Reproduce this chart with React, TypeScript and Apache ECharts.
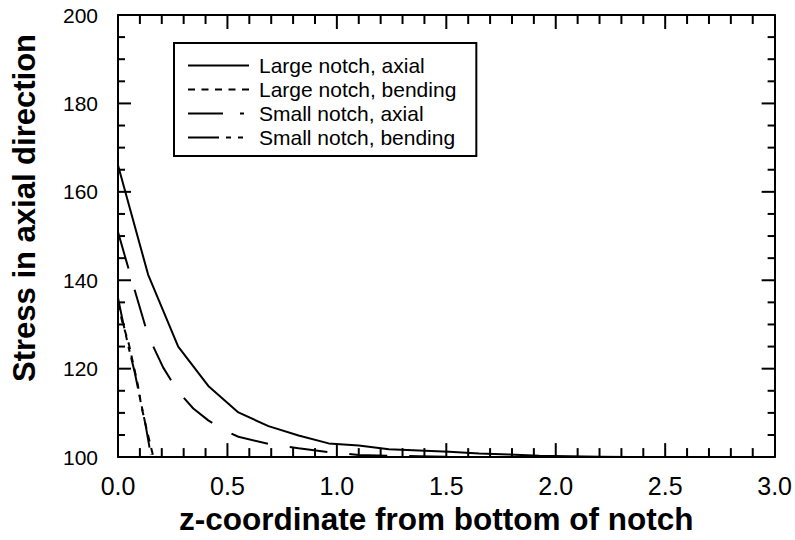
import React, { useEffect, useRef } from "react";
import * as echarts from "echarts";

const seriesNames = [
  "Large notch, axial",
  "Large notch, bending",
  "Small notch, axial",
  "Small notch, bending",
];

const largeAxialX = [0, 0.1375, 0.275, 0.4125, 0.55, 0.6875, 0.825, 0.9625, 1.1, 1.2375, 1.375, 1.5125, 1.65, 1.7875, 1.925, 2.0625, 2.2, 2.3375, 2.475, 2.6125, 2.75];
const largeAxialY = [166, 141.3, 125, 116.1, 110.1, 107, 104.9, 103.1, 102.6, 101.8, 101.5, 101.2, 100.8, 100.6, 100.3, 100.2, 100.1, 100, 100, 100, 100];

const largeBendX = [0, 0.02, 0.05, 0.07, 0.09, 0.106, 0.136, 0.162];
const largeBendY = [134.8, 130.5, 125.5, 121, 116.5, 111.7, 105.2, 100];

const smallAxialX = [0, 0.069, 0.1375, 0.206, 0.275, 0.344, 0.4125, 0.481, 0.55, 0.6875, 0.825, 0.9625, 1.1, 1.2375, 1.375, 1.5125];
const smallAxialY = [150.9, 139, 127.5, 120.3, 114.8, 111, 108.3, 106.2, 104.6, 103, 102, 101.1, 100.5, 100.3, 100.2, 100.1];

const smallBendX = [0, 0.025, 0.05, 0.075, 0.1, 0.125, 0.15];
const smallBendY = [136, 130, 124.5, 119.5, 113.5, 107.5, 100.5];

const xRange = { min: 0, max: 3, major: 0.5, minor: 0.1 };
const yRange = { min: 100, max: 200, major: 20, minor: 5 };

const FONT = "'Liberation Sans', Arial, Helvetica, sans-serif";

function zip(xs: number[], ys: number[]) {
  return xs.map((x, i) => [x, ys[i]]);
}

// tick positions (value, isMajor) along an axis range
function tickList(range: any) {
  const out: number[][] = [];
  const n = Math.round((range.max - range.min) / range.minor);
  const perMajor = Math.round(range.major / range.minor);
  for (let i = 1; i < n; i++) {
    out.push([range.min + i * range.minor, i % perMajor === 0 ? 1 : 0]);
  }
  return out;
}

export default function App() {
  const ref = useRef<HTMLDivElement>(null);
  useEffect(() => {
    if (!ref.current) return;
    const chart = echarts.init(ref.current, null, { renderer: "svg" });
    const black = { color: "#000", width: 2 };

    const frameAxis = (range: any, position: string, extra: any = {}) => ({
      type: "value",
      min: range.min,
      max: range.max,
      interval: range.major,
      position,
      axisLine: { show: true, onZero: false, lineStyle: black },
      axisTick: { show: false },
      minorTick: { show: false },
      splitLine: { show: false },
      axisLabel: { show: false },
      ...extra,
    });

    const lineSeries = (name: string, data: number[][], type: any) => ({
      name,
      type: "line",
      data,
      symbol: "none",
      showSymbol: false,
      xAxisIndex: 0,
      yAxisIndex: 0,
      lineStyle: { color: "#000", width: 2, type },
      itemStyle: { color: "#000" },
    });

    const tickStyle = { stroke: "#000", lineWidth: 2 };

    const xTickSeries = {
      name: "xticks",
      type: "custom",
      silent: true,
      clip: false,
      xAxisIndex: 0,
      yAxisIndex: 0,
      encode: { x: 0 },
      data: tickList(xRange),
      renderItem: (params: any, api: any) => {
        const v = api.value(0);
        const len = api.value(1) ? 14 : 9;
        const b = api.coord([v, yRange.min]);
        const t = api.coord([v, yRange.max]);
        return {
          type: "group",
          children: [
            { type: "line", shape: { x1: b[0], y1: b[1], x2: b[0], y2: b[1] - len }, style: tickStyle },
            { type: "line", shape: { x1: t[0], y1: t[1], x2: t[0], y2: t[1] + len }, style: tickStyle },
          ],
        };
      },
    };

    const yTickSeries = {
      name: "yticks",
      type: "custom",
      silent: true,
      clip: false,
      xAxisIndex: 0,
      yAxisIndex: 0,
      encode: { y: 0 },
      data: tickList(yRange),
      renderItem: (params: any, api: any) => {
        const v = api.value(0);
        const len = api.value(1) ? 13 : 7;
        const l = api.coord([xRange.min, v]);
        const r = api.coord([xRange.max, v]);
        return {
          type: "group",
          children: [
            { type: "line", shape: { x1: l[0], y1: l[1], x2: l[0] + len, y2: l[1] }, style: tickStyle },
            { type: "line", shape: { x1: r[0], y1: r[1], x2: r[0] - len, y2: r[1] }, style: tickStyle },
          ],
        };
      },
    };

    chart.setOption({
      animation: false,
      backgroundColor: "#fff",
      grid: { left: 118, right: 17, top: 15, bottom: 80 },
      xAxis: [
        frameAxis(xRange, "bottom", {
          axisLabel: {
            show: true,
            color: "#000",
            fontSize: 25,
            fontFamily: FONT,
            margin: 16,
            formatter: (v: number) => v.toFixed(1),
          },
          name: "z-coordinate from bottom of notch",
          nameLocation: "middle",
          nameGap: 44,
          nameTextStyle: {
            color: "#000",
            fontSize: 31.5,
            fontWeight: "bold",
            fontFamily: FONT,
            padding: [0, 20, 0, 0],
          },
        }),
        frameAxis(xRange, "top"),
      ],
      yAxis: [
        frameAxis(yRange, "left", {
          axisLabel: { show: true, color: "#000", fontSize: 21, fontFamily: FONT, margin: 20 },
        }),
        frameAxis(yRange, "right"),
      ],
      legend: {
        show: true,
        orient: "vertical",
        left: 174,
        top: 43,
        padding: [12, 20, 8, 13],
        borderColor: "#000",
        borderWidth: 2,
        itemWidth: 61,
        itemHeight: 14,
        itemGap: 3,
        align: "left",
        itemStyle: { opacity: 0 },
        textStyle: { color: "#000", fontSize: 21, fontFamily: FONT, lineHeight: 21, padding: [0, 0, 0, 5] },
        data: [
          { name: seriesNames[0] },
          { name: seriesNames[1] },
          { name: seriesNames[2], lineStyle: { type: [35, 17, 4, 5] } },
          { name: seriesNames[3] },
        ],
      },
      graphic: [
        {
          type: "text",
          x: 24,
          y: 208,
          rotation: Math.PI / 2,
          style: {
            text: "Stress in axial direction",
            fill: "#000",
            fontSize: 31,
            fontWeight: "bold",
            fontFamily: FONT,
            align: "center",
            verticalAlign: "middle",
          },
        },
      ],
      series: [
        lineSeries(seriesNames[0], zip(largeAxialX, largeAxialY), "solid"),
        lineSeries(seriesNames[1], zip(largeBendX, largeBendY), [7, 6.5]),
        lineSeries(seriesNames[2], zip(smallAxialX, smallAxialY), [38, 22]),
        lineSeries(seriesNames[3], zip(smallBendX, smallBendY), [31, 7, 5, 7, 5, 6]),
        xTickSeries,
        yTickSeries,
      ],
    });
    return () => chart.dispose();
  }, []);
  return <div ref={ref} style={{ width: 795, height: 540, position: "absolute", left: 0, top: 0 }} />;
}
